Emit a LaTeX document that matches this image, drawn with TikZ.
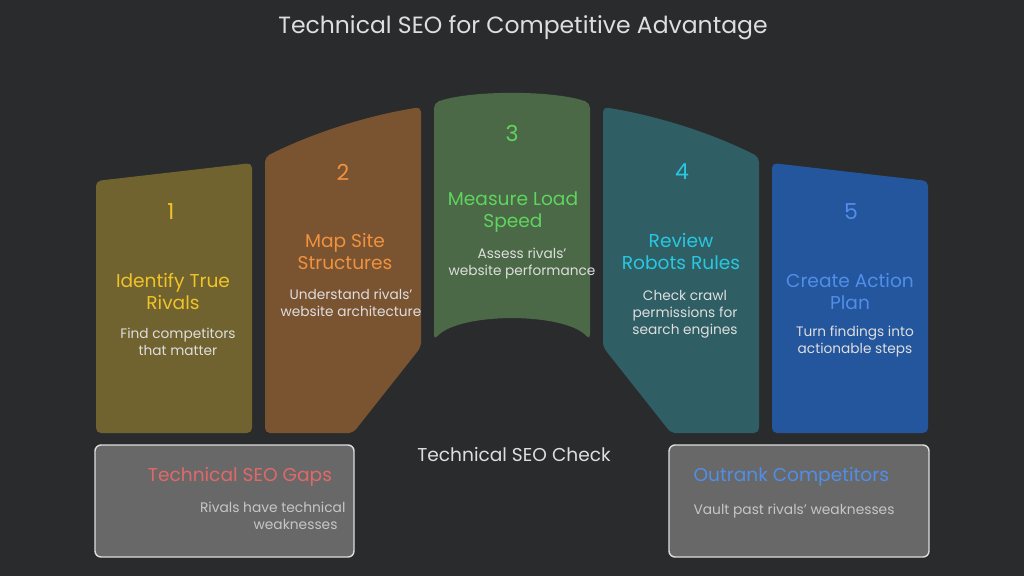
\documentclass[tikz,border=0pt]{standalone}
\usepackage{fontspec}
\setmainfont{Poppins}
\usetikzlibrary{positioning}
\definecolor{Bg}{RGB}{42,43,45}
\definecolor{Olive}{RGB}{112,99,48}
\definecolor{Brown}{RGB}{122,83,49}
\definecolor{Moss}{RGB}{75,105,70}
\definecolor{Teal}{RGB}{47,95,100}
\definecolor{Royal}{RGB}{36,86,158}
\definecolor{Yel}{RGB}{240,196,40}
\definecolor{Org}{RGB}{240,146,62}
\definecolor{Grn}{RGB}{96,212,96}
\definecolor{Cya}{RGB}{40,200,226}
\definecolor{Blu}{RGB}{80,142,232}
\definecolor{Txt}{RGB}{222,222,222}
\definecolor{Box}{RGB}{104,104,104}
\definecolor{Pink}{RGB}{226,104,104}

\begin{document}
\begin{tikzpicture}[x=1pt,y=-1pt,
 panel/.style={rounded corners=5pt},
 num/.style={font=\fontsize{22}{24}\selectfont},
 head/.style={align=center,font=\fontsize{18.6}{22}\selectfont},
 body/.style={align=center,text=Txt,font=\fontsize{13.7}{17}\selectfont},
 card/.style={rounded corners=6pt,draw=Txt,line width=1.4pt,fill=Box},
 ctitle/.style={font=\fontsize{18.6}{22}\selectfont},
 cbody/.style={text=Txt!80!Box,font=\fontsize{13.8}{17}\selectfont}]
\fill[Bg] (0,0) rectangle (1024,576);
\useasboundingbox (0,0) rectangle (1024,576);
\node[text=Txt,font=\fontsize{23.5}{26}\selectfont] (title) at (523,28) {Technical SEO for Competitive Advantage};
% the five panels of the arch
\fill[panel,Olive] (96,433) -- (96,181) -- (252,163) -- (252,433) -- cycle;
\fill[panel,Brown] (265,433) -- (265,157) .. controls (310,134) and (365,116) .. (421,107) -- (421,347) -- (353,433) -- cycle;
\fill[panel,Moss] (434,340) -- (434,103) .. controls (470,90) and (554,90) .. (590,103) -- (590,340) .. controls (565,312) and (459,312) .. (434,340) -- cycle;
\fill[panel,Teal] (671,433) -- (603,347) -- (603,107) .. controls (659,116) and (714,134) .. (759,157) -- (759,433) -- cycle;
\fill[panel,Royal] (772,433) -- (772,163) -- (928,181) -- (928,433) -- cycle;
% panel texts
\node[num,text=Yel] (n1) at (171,212) {1};
\node[head,text=Yel] (h1) at (173,291) {Identify True\\Rivals};
\node[body] (b1) at (178,342) {Find competitors\\that matter};
\node[num,text=Org] (n2) at (343,172) {2};
\node[head,text=Org] (h2) at (345,252) {Map Site\\Structures};
\node[body] (b2) at (351,303) {Understand rivals'\\website architecture};
\node[num,text=Grn] (n3) at (512,133) {3};
\node[head,text=Grn] (h3) at (513,212) {Measure Load\\Speed};
\node[body] (b3) at (522,264) {Assess rivals'\\website performance};
\node[num,text=Cya] (n4) at (682,172) {4};
\node[head,text=Cya] (h4) at (681,252) {Review\\Robots Rules};
\node[body] (b4) at (685,314) {Check crawl\\permissions for\\search engines};
\node[num,text=Blu] (n5) at (851,212) {5};
\node[head,text=Blu] (h5) at (850,291) {Create Action\\Plan};
\node[body] (b5) at (855,342) {Turn findings into\\actionable steps};
% base
\node[text=Txt,font=\fontsize{18.6}{22}\selectfont] (check) at (514,454) {Technical SEO Check};
\draw[card] (95,445) rectangle (354,557);
\draw[card] (669,445) rectangle (929,557);
\node[ctitle,text=Pink] (gaps) at (240,477) {Technical SEO Gaps};
\node[cbody,align=right,anchor=east] (gapsb) at (349,516) {Rivals have technical\\weaknesses\hspace*{8pt}};
\node[ctitle,text=Blu,anchor=west] (outr) at (690,477) {Outrank Competitors};
\node[cbody,anchor=west] (outrb) at (690,511) {Vault past rivals' weaknesses};
\end{tikzpicture}
\end{document}
